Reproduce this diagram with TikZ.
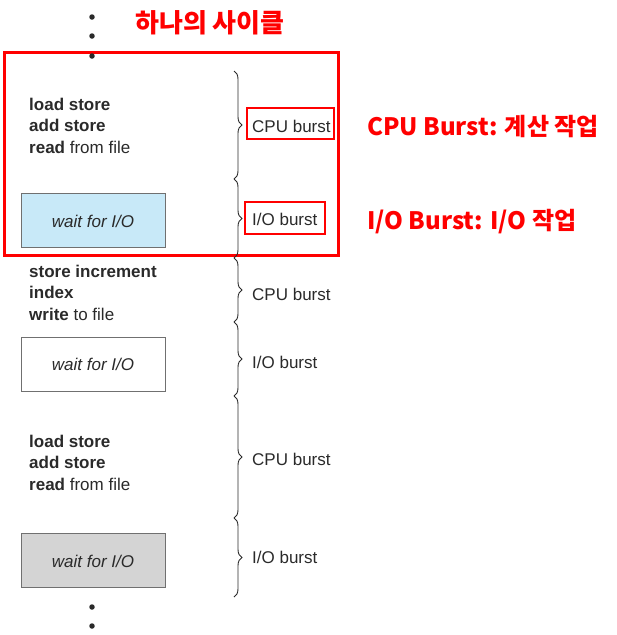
\documentclass[tikz,border=0pt]{standalone}
\usepackage{fontspec}
\setmainfont{Liberation Sans}
\newfontfamily\kr{Noto Sans CJK KR}
\usetikzlibrary{decorations.pathreplacing}
\definecolor{txt}{HTML}{2A2A2A}
\definecolor{boxline}{HTML}{707070}
\definecolor{bluefill}{HTML}{C8E9F8}
\definecolor{grayfill}{HTML}{D4D4D4}
\tikzset{
  code/.style={anchor=base west,inner sep=0pt,text=txt,font=\fontsize{17}{20}\selectfont},
  lbl/.style={anchor=base west,inner sep=0pt,text=txt,font=\fontsize{17}{20}\selectfont},
  iobox/.style={draw=boxline,line width=0.9pt},
  waittxt/.style={anchor=base,inner sep=0pt,text=txt,font=\fontsize{17}{20}\selectfont\itshape},
  brc/.style={decorate,decoration={brace,amplitude=8pt},draw=txt,line width=0.9pt},
  dot/.style={circle,fill=txt,inner sep=0pt,minimum size=5.5pt},
  redbox/.style={draw=red,line width=3pt},
  redtxt/.style={text=red,inner sep=0pt,font=\fontsize{24}{26}\selectfont\kr\bfseries},
}
\begin{document}
\begin{tikzpicture}[x=1pt,y=-1pt]
\useasboundingbox (0,0) rectangle (617,635);
% red frame of one cycle
\draw[redbox] (4,52.5) rectangle (338,255);
% dots
\node[dot] (d1) at (92,17) {};
\node[dot] (d2) at (92,36) {};
\node[dot] (d3) at (92,56) {};
\node[dot] (d4) at (92,607) {};
\node[dot] (d5) at (92,626) {};
% title
\node[redtxt,font=\fontsize{26}{28}\selectfont\kr\bfseries] (title) at (210,23) {하나의 사이클};
% block 1
\node[code] (a1) at (29,110) {\textbf{load store}};
\node[code] (a2) at (29,131.5) {\textbf{add store}};
\node[code] (a3) at (29,153) {\textbf{read} from file};
\draw[iobox,fill=bluefill] (21,193) rectangle (165,247);
\node[waittxt] (w1) at (93,227) {wait for I/O};
% block 2
\node[code] (b1) at (29,277) {\textbf{store increment}};
\node[code] (b2) at (29,298.5) {\textbf{index}};
\node[code] (b3) at (29,320) {\textbf{write} to file};
\draw[iobox,fill=white] (21,337) rectangle (165,391);
\node[waittxt] (w2) at (93,370) {wait for I/O};
% block 3
\node[code] (c1) at (29,447) {\textbf{load store}};
\node[code] (c2) at (29,468.5) {\textbf{add store}};
\node[code] (c3) at (29,490) {\textbf{read} from file};
\draw[iobox,fill=grayfill] (21,533) rectangle (165,587);
\node[waittxt] (w3) at (93,567) {wait for I/O};
% braces
\coordinate (p0) at (234,71);
\coordinate (p1) at (234,179);
\coordinate (p2) at (234,258);
\coordinate (p3) at (234,322);
\coordinate (p4) at (234,396);
\coordinate (p5) at (234,518);
\coordinate (p6) at (234,597);
\draw[brc] (p0) -- (p1);
\draw[brc] (p1) -- (p2);
\draw[brc] (p2) -- (p3);
\draw[brc] (p3) -- (p4);
\draw[brc] (p4) -- (p5);
\draw[brc] (p5) -- (p6);
% labels
\node[lbl] (l1) at (252,132) {CPU burst};
\node[lbl] (l2) at (252,225) {I/O burst};
\node[lbl] (l3) at (252,300) {CPU burst};
\node[lbl] (l4) at (252,368) {I/O burst};
\node[lbl] (l5) at (252,465) {CPU burst};
\node[lbl] (l6) at (252,563) {I/O burst};
% red boxes around labels
\draw[redbox,line width=2.8pt] (247,108) rectangle (334,139);
\draw[redbox,line width=2.8pt] (245,202) rectangle (325,234);
% right texts
\node[redtxt,anchor=base west] (r1) at (367,135) {CPU Burst: 계산 작업};
\node[redtxt,anchor=base west] (r2) at (367,229) {I/O Burst: I/O 작업};
\end{tikzpicture}
\end{document}
